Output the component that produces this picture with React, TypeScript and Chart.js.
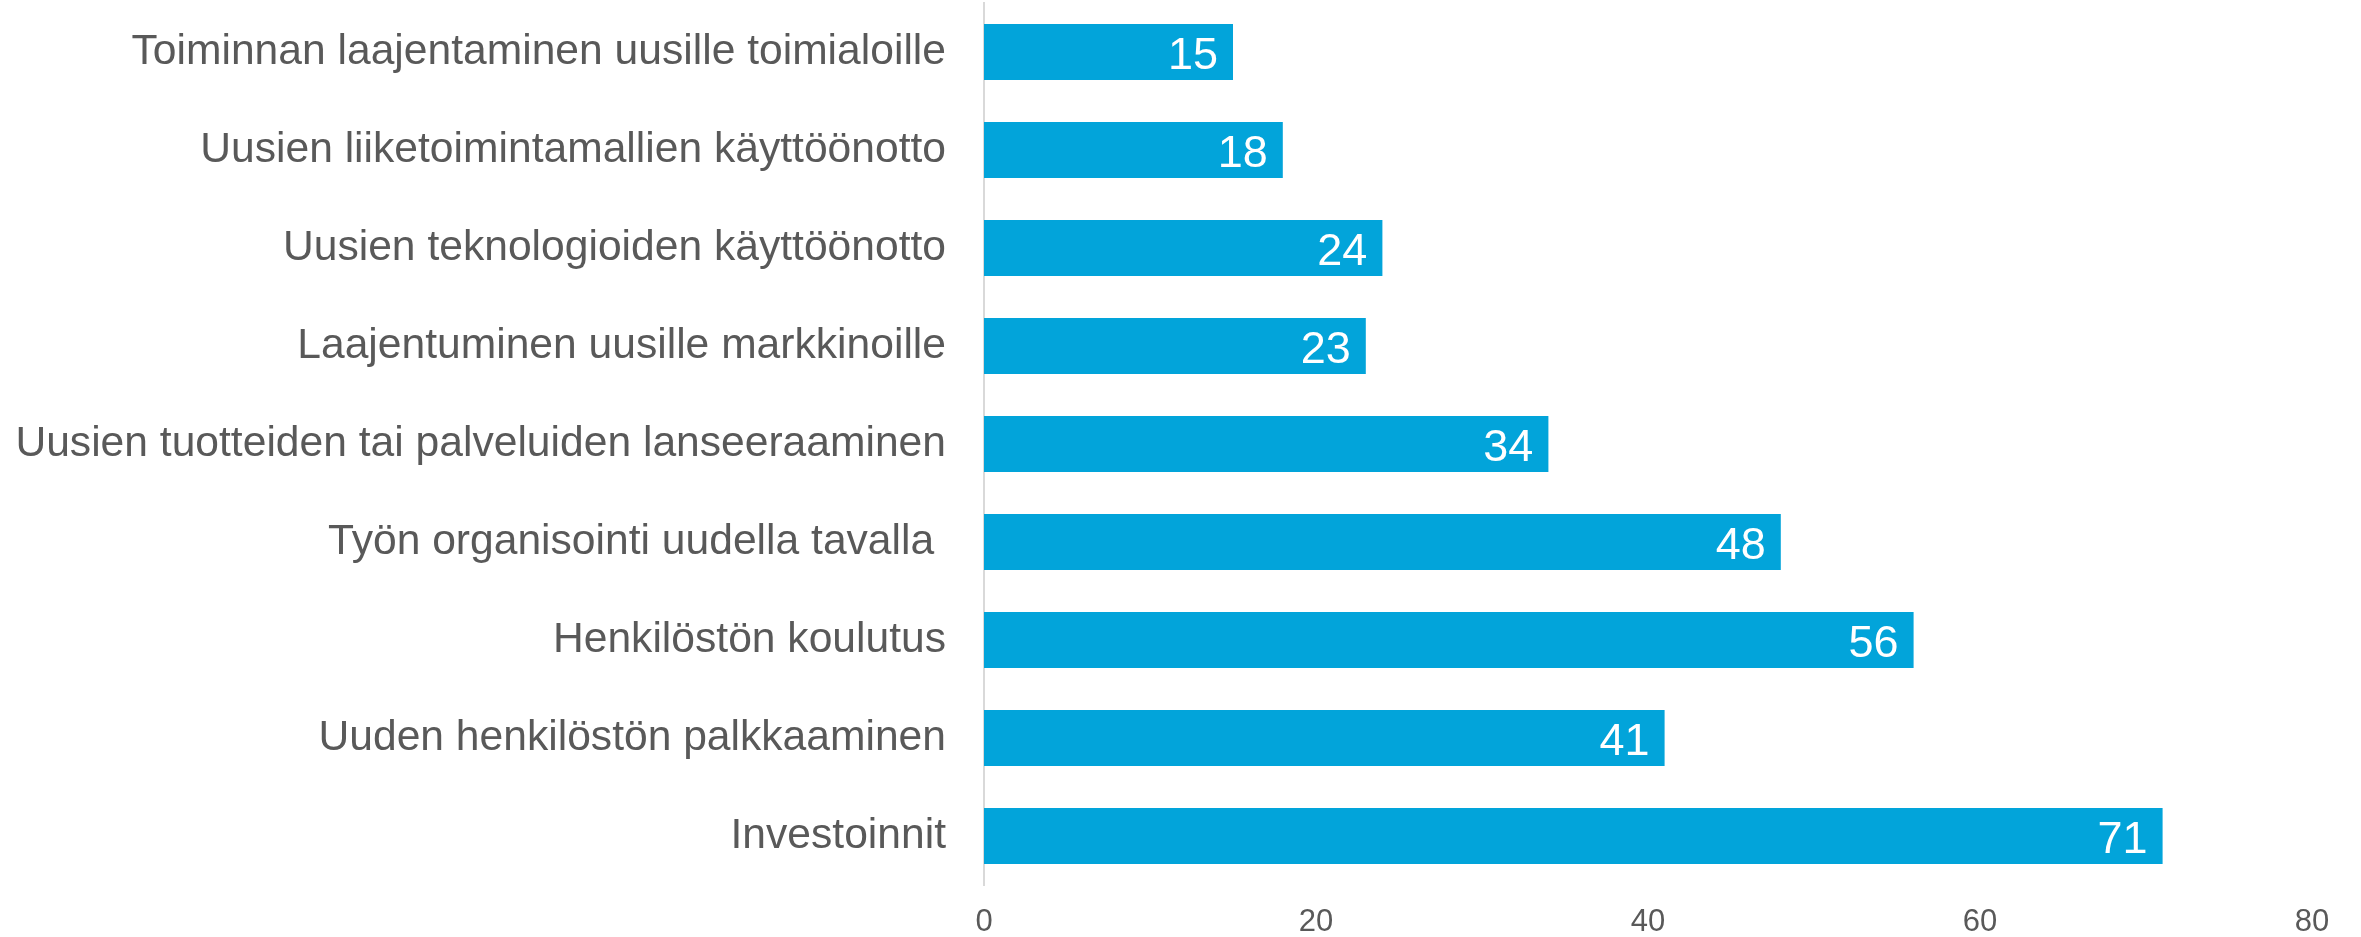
import React, { useEffect, useRef } from "react";
import { Chart, registerables } from "chart.js";

Chart.register(...registerables);

const categories = [
  "Toiminnan laajentaminen uusille toimialoille",
  "Uusien liiketoimintamallien käyttöönotto",
  "Uusien teknologioiden käyttöönotto",
  "Laajentuminen uusille markkinoille",
  "Uusien tuotteiden tai palveluiden lanseeraaminen",
  "Työn organisointi uudella tavalla ",
  "Henkilöstön koulutus",
  "Uuden henkilöstön palkkaaminen",
  "Investoinnit",
];
const values = [15, 18, 24, 23, 34, 48, 56, 41, 71];
const xMin = 0;
const xMax = 80;
const xStep = 20;

const FONT = "'Liberation Sans', Arial, sans-serif";
const BAR_COLOR = "#02A4DA";
const TEXT_COLOR = "#595959";

const valueLabels = {
  id: "valueLabels",
  afterDatasetsDraw(chart: any) {
    const ctx = chart.ctx;
    const meta = chart.getDatasetMeta(0);
    ctx.save();
    ctx.font = `45px ${FONT}`;
    ctx.fillStyle = "#FFFFFF";
    ctx.textAlign = "right";
    ctx.textBaseline = "alphabetic";
    meta.data.forEach((bar: any, i: number) => {
      const v = chart.data.datasets[0].data[i];
      ctx.fillText(String(v), bar.x - 15, bar.y + 17);
    });
    ctx.restore();
  },
};

export default function App() {
  const ref = useRef<HTMLCanvasElement | null>(null);
  useEffect(() => {
    if (!ref.current) return;
    const chart = new Chart(ref.current, {
      type: "bar",
      data: {
        labels: categories,
        datasets: [
          {
            data: values,
            backgroundColor: BAR_COLOR,
            borderWidth: 0,
            barPercentage: 0.57,
            categoryPercentage: 1,
          },
        ],
      },
      options: {
        indexAxis: "y",
        responsive: false,
        animation: false,
        layout: { padding: { top: 3, right: 49, left: 0, bottom: 0 } },
        plugins: {
          legend: { display: false },
          tooltip: { enabled: false },
        },
        scales: {
          x: {
            min: xMin,
            max: xMax,
            ticks: {
              stepSize: xStep,
              color: TEXT_COLOR,
              font: { family: FONT, size: 31 },
              padding: 19,
            },
            grid: { display: false, drawTicks: false },
            border: { display: false },
            afterFit: (scale: any) => {
              scale.height = 52;
              scale.paddingLeft = 0;
              scale.paddingRight = 0;
            },
          },
          y: {
            ticks: {
              color: TEXT_COLOR,
              font: { family: FONT, size: 42.6 },
              padding: 38,
            },
            grid: { display: false, drawTicks: false },
            border: { display: true, color: "#D9D9D9", width: 2 },
            afterFit: (scale: any) => {
              scale.width = 984;
              scale.paddingTop = 0;
              scale.paddingBottom = 0;
            },
          },
        },
      },
      plugins: [valueLabels],
    });
    return () => chart.destroy();
  }, []);
  return (
    <div style={{ position: "fixed", left: 0, top: 0, width: 2361, height: 937, background: "#fff" }}>
      <canvas ref={ref} width={2361} height={937} />
    </div>
  );
}
